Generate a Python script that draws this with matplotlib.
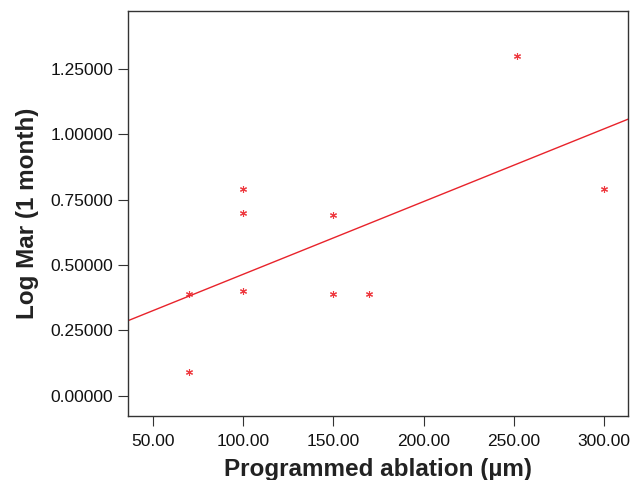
import matplotlib.pyplot as plt
import numpy as np

plt.rcParams['font.family'] = ['Liberation Sans', 'DejaVu Sans']

# Data
ablation = [70, 70, 100, 100, 100, 150, 150, 170, 252, 300]
logmar = [0.39, 0.09, 0.40, 0.70, 0.79, 0.69, 0.39, 0.39, 1.30, 0.79]
x_ticks = [50, 100, 150, 200, 250, 300]
y_ticks = [0.0, 0.25, 0.5, 0.75, 1.0, 1.25]

red = '#e8232b'

fig, ax = plt.subplots(figsize=(6.32, 4.8), dpi=100)
fig.subplots_adjust(left=0.203, right=0.993, top=0.977, bottom=0.134)

ax.plot(ablation, logmar, linestyle='none', marker=(6, 2, 0), markersize=5,
        markeredgewidth=0.8, color='#ee3a40')

# linear fit line across the whole axis
xlim = (36.1, 313.3)
slope, intercept = np.polyfit(ablation, logmar, 1)
xs = np.array(xlim)
ax.plot(xs, slope * xs + intercept, color=red, linewidth=1.0)

ax.set_xlim(*xlim)
ax.set_ylim(-0.077, 1.472)
ax.set_xticks(x_ticks)
ax.set_xticklabels([f'{v:.2f}' for v in x_ticks])
ax.set_yticks(y_ticks)
ax.set_yticklabels([f'{v:.5f}' for v in y_ticks])

ax.tick_params(axis='both', labelsize=12.5, direction='out', length=7,
               color='#333333', labelcolor='#111111')
ax.tick_params(axis='x', pad=6)
ax.tick_params(axis='y', pad=4)
for sp in ax.spines.values():
    sp.set_color('#333333')
    sp.set_linewidth(1.0)

ax.set_xlabel('Programmed ablation (µm)', fontsize=17.5, fontweight='bold',
              color='#222222', labelpad=7)
ax.set_ylabel('Log Mar (1 month)', fontsize=17.5, fontweight='bold',
              color='#222222', labelpad=8)

plt.savefig('out.png', dpi=100)
